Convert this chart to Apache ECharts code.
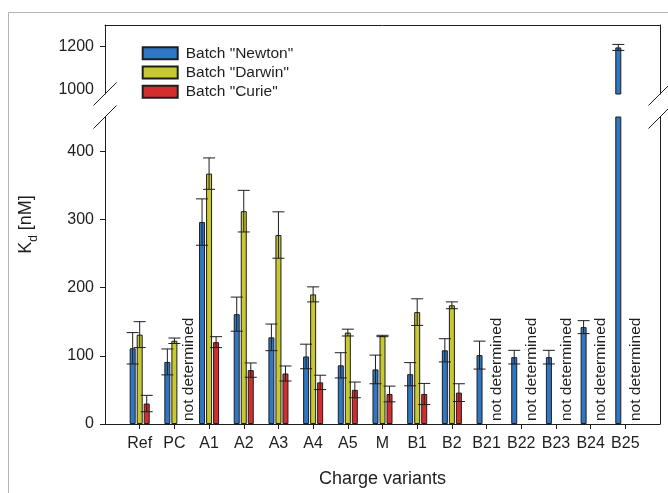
<!DOCTYPE html>
<html><head><meta charset="utf-8">
<script src="https://cdn.jsdelivr.net/npm/echarts@6/dist/echarts.min.js"></script>
<style>html,body{margin:0;padding:0;background:#fff}#c{width:668px;height:493px}</style>
</head><body><div id="c"></div>
<script>
// ---- data ----
const categories = ['Ref','PC','A1','A2','A3','A4','A5','M','B1','B2','B21','B22','B23','B24','B25'];
const seriesNames = ['Batch "Newton"','Batch "Darwin"','Batch "Curie"'];
const newton    = [111, 91, 296, 161, 127, 99, 86, 80, 73, 108, 101, 98, 98, 142, 1196];
const newtonErr = [23, 19, 34, 25, 19.5, 18, 18.5, 21, 17, 17, 20.5, 10, 10, 9.5, 14];
const darwin    = [131, 122, 367, 312, 277, 190, 134, 129, 164, 174, null, null, null, null, null];
const darwinErr = [19, 4, 23, 30.5, 34, 11, 5, 1, 19.5, 5, null, null, null, null, null];
const curie     = [30, null, 120, 79, 74, 61, 50, 44, 44, 46, null, null, null, null, null];
const curieErr  = [12, null, 8, 10.5, 11, 10.5, 11.5, 11.5, 15.5, 13, null, null, null, null, null];
const lowerTicks = [0, 100, 200, 300, 400];
const upperTicks = [1000, 1200];
const upperTickMarks = [1200];
const lowerRange = [0, 450];
const upperRange = [980, 1300];
const missingText = 'not determined';
const xTitle = 'Charge variants';

// ---- styling / layout ----
const FONT = '"Liberation Sans", Arial, Helvetica, sans-serif';
const colors = ['#2f77c4', '#c8c832', '#d22e2e'];
const INK = '#1e1e1e';
const W = 668;
const L = 105, R = 660, T = 25, UB = 94, LT = 117, B = 424;
const BAR_W = 6, GAP_PCT = 17;
const GAP_PX = BAR_W * GAP_PCT / 100;
const CAP = 6;

const values = [newton, darwin, curie];
const errs = [newtonErr, darwinErr, curieErr];
const axisCats = [''].concat(categories, ['']);
const pad = arr => [null].concat(arr, [null]);
const plain = v => String(v);

const series = [];
values.forEach((vals, k) => {
  const common = {
    name: seriesNames[k], type: 'bar', barWidth: BAR_W, barGap: GAP_PCT + '%',
    itemStyle: { color: colors[k], borderColor: INK, borderWidth: 1 },
    clip: true, z: 2
  };
  series.push(Object.assign({}, common, { xAxisIndex: 1, yAxisIndex: 2, data: pad(vals) }));
  series.push(Object.assign({}, common, { xAxisIndex: 0, yAxisIndex: 0,
    data: pad(vals.map(v => (v != null && v >= upperRange[0]) ? v : null)) }));
});

function errRender(offset) {
  return function (params, api) {
    const idx = api.value(0), v = api.value(1), e = api.value(2);
    const hi = api.coord([idx, v + e]);
    const lo = api.coord([idx, v - e]);
    const x = hi[0] + offset;
    const st = { stroke: INK, lineWidth: 1 };
    return { type: 'group', children: [
      { type: 'line', shape: { x1: x, y1: hi[1], x2: x, y2: lo[1] }, style: st },
      { type: 'line', shape: { x1: x - CAP, y1: hi[1], x2: x + CAP, y2: hi[1] }, style: st },
      { type: 'line', shape: { x1: x - CAP, y1: lo[1], x2: x + CAP, y2: lo[1] }, style: st }
    ]};
  };
}
values.forEach((vals, k) => {
  const offset = (k - 1) * (BAR_W + GAP_PX);
  const low = [], up = [];
  vals.forEach((v, i) => {
    if (v == null) return;
    const item = [categories[i], v, errs[k][i]];
    if (v <= lowerRange[1]) low.push(item);
    if (v >= upperRange[0]) up.push(item);
  });
  series.push({ type: 'custom', name: 'err' + k, xAxisIndex: 1, yAxisIndex: 2, z: 5,
    renderItem: errRender(offset), encode: { x: 0, y: 1 }, data: low });
  series.push({ type: 'custom', name: 'errU' + k, xAxisIndex: 0, yAxisIndex: 0, z: 5,
    renderItem: errRender(offset), encode: { x: 0, y: 1 }, data: up });
});

// "not determined" labels where Curie (and possibly Darwin) are missing
const ndData = [];
categories.forEach((c, i) => {
  if (curie[i] == null) ndData.push([c, darwin[i] == null ? 1 : 0]);
});
series.push({
  type: 'custom', name: 'nd', xAxisIndex: 1, yAxisIndex: 2, z: 6,
  encode: { x: 0 },
  data: ndData,
  renderItem: function (params, api) {
    const idx = api.value(0);
    const p = api.coord([idx, 0]);
    const dx = api.value(1) === 1 ? 10.5 : 14;
    return { type: 'text', x: p[0] + dx, y: p[1] - 3, rotation: Math.PI / 2,
      style: { text: missingText, font: '15.5px ' + FONT, fill: INK, align: 'left', verticalAlign: 'middle' } };
  }
});

const chart = echarts.init(document.getElementById('c'), null, { renderer: 'canvas' });
chart.setOption({
  animation: false,
  backgroundColor: '#fff',
  textStyle: { fontFamily: FONT },
  legend: {
    data: seriesNames, orient: 'vertical', left: 141.7, top: 45.3, padding: 0,
    itemWidth: 35, itemHeight: 12, itemGap: 3.2, selectedMode: false, icon: 'rect',
    textStyle: { fontSize: 15.5, color: INK, fontFamily: FONT, lineHeight: 16, padding: [0, 0, 0, 3] }
  },
  grid: [
    { left: L, right: W - R, top: T, height: UB - T },
    { left: L, right: W - R, top: LT, height: B - LT }
  ],
  xAxis: [
    { gridIndex: 0, type: 'category', data: axisCats, boundaryGap: false, position: 'top',
      axisLine: { show: true, lineStyle: { color: INK, width: 1 } },
      axisTick: { show: false }, axisLabel: { show: false }, splitLine: { show: false } },
    { gridIndex: 1, type: 'category', data: axisCats, boundaryGap: false, position: 'bottom',
      axisLine: { show: true, lineStyle: { color: INK, width: 1 } },
      axisTick: { show: true, length: 5, inside: false, lineStyle: { color: INK },
        interval: function (i, v) { return v !== ''; } },
      axisLabel: { interval: 0, fontSize: 16, color: INK, margin: 12, fontFamily: FONT },
      splitLine: { show: false },
      name: xTitle, nameLocation: 'middle', nameGap: 46,
      nameTextStyle: { fontSize: 18, color: INK, fontFamily: FONT } }
  ],
  yAxis: [
    { gridIndex: 0, type: 'value', min: upperRange[0], max: upperRange[1],
      axisLine: { show: true, lineStyle: { color: INK } },
      axisTick: { show: true, length: 5, lineStyle: { color: INK }, customValues: upperTickMarks },
      axisLabel: { fontSize: 16, color: INK, margin: 11, customValues: upperTicks, fontFamily: FONT, formatter: plain },
      splitLine: { show: false } },
    { gridIndex: 0, type: 'value', position: 'right', min: upperRange[0], max: upperRange[1],
      axisLine: { show: true, lineStyle: { color: INK } },
      axisTick: { show: false }, axisLabel: { show: false }, splitLine: { show: false } },
    { gridIndex: 1, type: 'value', min: lowerRange[0], max: lowerRange[1],
      axisLine: { show: true, lineStyle: { color: INK } },
      axisTick: { show: true, length: 5, lineStyle: { color: INK }, customValues: lowerTicks },
      axisLabel: { fontSize: 16, color: INK, margin: 11, customValues: lowerTicks, fontFamily: FONT, formatter: plain },
      splitLine: { show: false } },
    { gridIndex: 1, type: 'value', position: 'right', min: lowerRange[0], max: lowerRange[1],
      axisLine: { show: true, lineStyle: { color: INK } },
      axisTick: { show: false }, axisLabel: { show: false }, splitLine: { show: false } }
  ],
  graphic: [
    { type: 'rect', z: -10, silent: true, shape: { x: 8.5, y: 12.5, width: 700, height: 600 },
      style: { fill: 'none', stroke: '#b4b4b4', lineWidth: 1 } },
    // axis-break slashes
    ...[[L, UB], [L, LT], [R, UB], [R, LT]].map(([cx, cy]) => ({
      type: 'line', z: 10, silent: true,
      shape: { x1: cx - 11.5, y1: cy + 11.5, x2: cx + 11.5, y2: cy - 11.5 },
      style: { stroke: INK, lineWidth: 1 } })),
    { type: 'text', x: 28.5, y: (T + B) / 2, rotation: Math.PI / 2, silent: true,
      style: {
        text: '{a|K}{b|d}{a| [nM]}', align: 'center', verticalAlign: 'middle', fill: INK,
        rich: {
          a: { fontSize: 18, lineHeight: 20, verticalAlign: 'top', fontFamily: FONT, fill: INK },
          b: { fontSize: 12, lineHeight: 22, padding: [12, 0, 0, 0], verticalAlign: 'bottom', fontFamily: FONT, fill: INK }
        }
      } }
  ],
  series: series
});
</script>
</body></html>
